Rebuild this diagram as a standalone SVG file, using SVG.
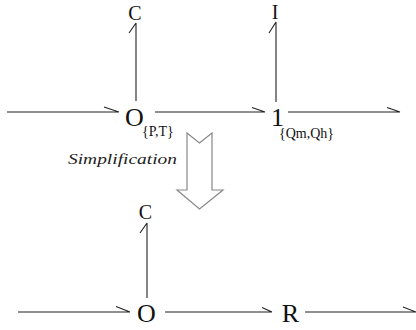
<svg xmlns="http://www.w3.org/2000/svg" width="416" height="330" viewBox="0 0 416 330">
<style>
.b{stroke:#222;stroke-width:1.1;fill:none}
.t{font-family:"Liberation Serif","Times New Roman",serif;fill:#111}
.big{font-size:26px}
.lab{font-size:20px}
.sub{font-size:14px}
.it{font-family:"Liberation Serif","Times New Roman",serif;font-style:italic;font-size:15px;fill:#222}
</style>
<rect width="416" height="330" fill="#fff"/>
<g id="connectors">
<path class="b" d="M7,112H119M104,107L119,112"/>
<path class="b" d="M155,112H265M252,107.5L265,112"/>
<path class="b" d="M288,112H400M387,107.5L400,112"/>
<path class="b" d="M136,101V23M136,23L129,33"/>
<path class="b" d="M276,102V22M276,22L269,33"/>
<path class="b" d="M18,312H130M116,306.5L130,312"/>
<path class="b" d="M165,312H272M262,307.5L272,312"/>
<path class="b" d="M305,312H416M403,307L416,312"/>
<path class="b" d="M147,298V223M147,223L140,233"/>
</g>
<g id="node-C-top"><text class="t lab" x="135" y="20" text-anchor="middle">C</text></g>
<g id="node-I-top"><text class="t lab" x="275" y="19" text-anchor="middle">I</text></g>
<g id="node-0-top"><text class="t big" x="125" y="126">O</text><text class="t sub" x="142" y="136">{P,T}</text></g>
<g id="node-1-top"><text class="t big" x="271" y="126">1</text><text class="t sub" x="279" y="138">{Qm,Qh}</text></g>
<g id="simplification">
<text class="it" x="68" y="164" textLength="109" lengthAdjust="spacingAndGlyphs">Simplification</text>
<path d="M187,133L199.5,143L212,133V190H223L199.5,209L177,190H187Z" fill="#fff" stroke="#888" stroke-width="1.2"/>
</g>
<g id="node-C-bottom"><text class="t lab" x="145.5" y="219" text-anchor="middle">C</text></g>
<g id="node-0-bottom"><text class="t big" x="146.5" y="322" text-anchor="middle">O</text></g>
<g id="node-R-bottom"><text class="t big" x="290.5" y="322" text-anchor="middle">R</text></g>
</svg>
